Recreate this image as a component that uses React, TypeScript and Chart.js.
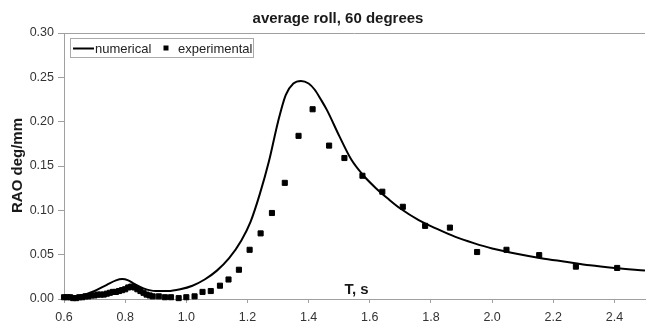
import React, { useEffect, useRef } from "react";
import { Chart, registerables } from "chart.js";

Chart.register(...registerables);

const TITLE = "average roll, 60 degrees";
const Y_TITLE = "RAO deg/mm";
const X_TITLE = "T, s";
const SERIES_NAMES = ["numerical", "experimental"];

const numericalT = [
  0.6, 0.62, 0.65, 0.7, 0.74, 0.77, 0.79, 0.81, 0.83, 0.86, 0.9, 0.94, 0.98, 1.02,
  1.06, 1.1, 1.14, 1.18, 1.21, 1.24, 1.27, 1.3, 1.325, 1.35, 1.375, 1.4, 1.42, 1.44,
  1.46, 1.5, 1.54, 1.58, 1.62, 1.66, 1.7, 1.76, 1.82, 1.88, 1.94, 2.0, 2.08, 2.16,
  2.24, 2.32, 2.4, 2.5,
];
const numericalRAO = [
  0.001, 0.001, 0.003, 0.009, 0.016, 0.021, 0.0225, 0.021, 0.017, 0.012, 0.009, 0.009,
  0.011, 0.015, 0.022, 0.032, 0.046, 0.066, 0.087, 0.118, 0.155, 0.2, 0.23, 0.243,
  0.246, 0.243, 0.236, 0.225, 0.213, 0.184, 0.157, 0.139, 0.125, 0.113, 0.102, 0.089,
  0.079, 0.07, 0.063, 0.057, 0.051, 0.046, 0.042, 0.038, 0.035, 0.032,
];

const experimentalT = [
  0.6, 0.61, 0.62, 0.63, 0.64, 0.65, 0.66, 0.67, 0.68, 0.69, 0.7, 0.71, 0.72, 0.73,
  0.74, 0.75, 0.76, 0.77, 0.78, 0.79, 0.8, 0.81, 0.82, 0.83, 0.84, 0.85, 0.86, 0.87,
  0.88, 0.89, 0.91, 0.93, 0.95, 0.975, 1.0, 1.027, 1.053, 1.08, 1.11, 1.138, 1.172,
  1.207, 1.243, 1.28, 1.322, 1.367, 1.413, 1.467, 1.517, 1.576, 1.641, 1.708, 1.781,
  1.862, 1.951, 2.047, 2.154, 2.274, 2.409,
];
const experimentalRAO = [
  0.002, 0.002, 0.002, 0.001, 0.001, 0.002, 0.002, 0.003, 0.003, 0.004, 0.004, 0.005,
  0.005, 0.005, 0.006, 0.007, 0.008, 0.008, 0.009, 0.01, 0.011, 0.013, 0.014, 0.013,
  0.011, 0.009, 0.007, 0.005, 0.004, 0.003, 0.003, 0.002, 0.002, 0.001, 0.002, 0.003,
  0.008, 0.009, 0.015, 0.022, 0.033, 0.0555, 0.074, 0.097, 0.131, 0.184, 0.214, 0.173,
  0.159, 0.139, 0.121, 0.104, 0.0825, 0.0805, 0.053, 0.0555, 0.0495, 0.0365, 0.035,
];

const FONT = "'Liberation Sans', Arial, Helvetica, sans-serif";
const AXIS_GRAY = "#a0a0a0";

const overlay = {
  id: "overlay",
  afterDraw(chart: any) {
    const { ctx, chartArea: a } = chart;
    ctx.save();
    ctx.strokeStyle = AXIS_GRAY;
    ctx.lineWidth = 1;
    ctx.beginPath();
    ctx.moveTo(a.left, Math.round(a.top) + 0.5);
    ctx.lineTo(a.right, Math.round(a.top) + 0.5);
    ctx.stroke();

    ctx.fillStyle = "#1a1a1a";
    ctx.font = `bold 15px ${FONT}`;
    ctx.textAlign = "center";
    ctx.textBaseline = "alphabetic";
    ctx.fillText(TITLE, 338, 23);

    ctx.fillText(X_TITLE, 356.5, 294);

    ctx.save();
    ctx.translate(22, 165.5);
    ctx.rotate(-Math.PI / 2);
    ctx.fillText(Y_TITLE, 0, 0);
    ctx.restore();

    ctx.fillStyle = "#fff";
    ctx.fillRect(70.5, 38.5, 183, 19);
    ctx.strokeStyle = "#aaaaaa";
    ctx.lineWidth = 1;
    ctx.strokeRect(70.5, 38.5, 183, 19);
    ctx.strokeStyle = "#000";
    ctx.lineWidth = 2;
    ctx.beginPath();
    ctx.moveTo(73, 48.5);
    ctx.lineTo(94, 48.5);
    ctx.stroke();
    ctx.fillStyle = "#000";
    ctx.fillRect(163.5, 45.5, 5, 5);
    ctx.fillStyle = "#222";
    ctx.font = `13px ${FONT}`;
    ctx.textAlign = "left";
    ctx.fillText(SERIES_NAMES[0], 95, 53);
    ctx.fillText(SERIES_NAMES[1], 178, 53);
    ctx.restore();
  },
};

export default function App() {
  const ref = useRef<HTMLCanvasElement | null>(null);
  useEffect(() => {
    if (!ref.current) return;
    const chart = new Chart(ref.current, {
      type: "scatter",
      data: {
        datasets: [
          {
            label: SERIES_NAMES[0],
            data: numericalT.map((t, i) => ({ x: t, y: numericalRAO[i] })),
            showLine: true,
            borderColor: "#000",
            backgroundColor: "#000",
            borderWidth: 2,
            pointRadius: 0,
            cubicInterpolationMode: "monotone",
          } as any,
          {
            label: SERIES_NAMES[1],
            data: experimentalT.map((t, i) => ({ x: t, y: experimentalRAO[i] })),
            showLine: false,
            pointStyle: "rect",
            pointRadius: 3.6,
            borderWidth: 1,
            borderColor: "#000",
            backgroundColor: "#000",
            clip: false,
          } as any,
        ],
      },
      options: {
        responsive: false,
        animation: false,
        devicePixelRatio: 1,
        layout: { padding: { top: 33, left: 0, right: 0, bottom: 0 } },
        plugins: {
          legend: { display: false },
          title: { display: false },
          tooltip: { enabled: false },
        },
        scales: {
          x: {
            type: "linear",
            min: 0.6,
            max: 2.5,
            afterFit: (s: any) => {
              s.height = 23;
            },
            grid: {
              drawOnChartArea: false,
              drawTicks: true,
              tickLength: 4,
              color: AXIS_GRAY,
            },
            border: { color: AXIS_GRAY, width: 1 },
            ticks: {
              stepSize: 0.2,
              includeBounds: false,
              autoSkip: false,
              maxRotation: 0,
              padding: 7,
              color: "#333",
              font: { family: FONT, size: 12.5 },
              callback: (v: any) => Number(v).toFixed(1),
            },
          },
          y: {
            type: "linear",
            min: 0,
            max: 0.3,
            afterFit: (s: any) => {
              s.width = 64;
            },
            grid: {
              drawOnChartArea: false,
              drawTicks: true,
              tickLength: 6,
              color: AXIS_GRAY,
            },
            border: { color: AXIS_GRAY, width: 1 },
            ticks: {
              stepSize: 0.05,
              padding: 4,
              color: "#333",
              font: { family: FONT, size: 12.5 },
              callback: (v: any) => Number(v).toFixed(2),
            },
          },
        },
      },
      plugins: [overlay],
    });
    return () => chart.destroy();
  }, []);
  return (
    <div style={{ position: "fixed", left: 0, top: 0, width: 650, height: 322, background: "#fff" }}>
      <canvas ref={ref} width={650} height={322} style={{ width: 650, height: 322, display: "block" }} />
    </div>
  );
}
